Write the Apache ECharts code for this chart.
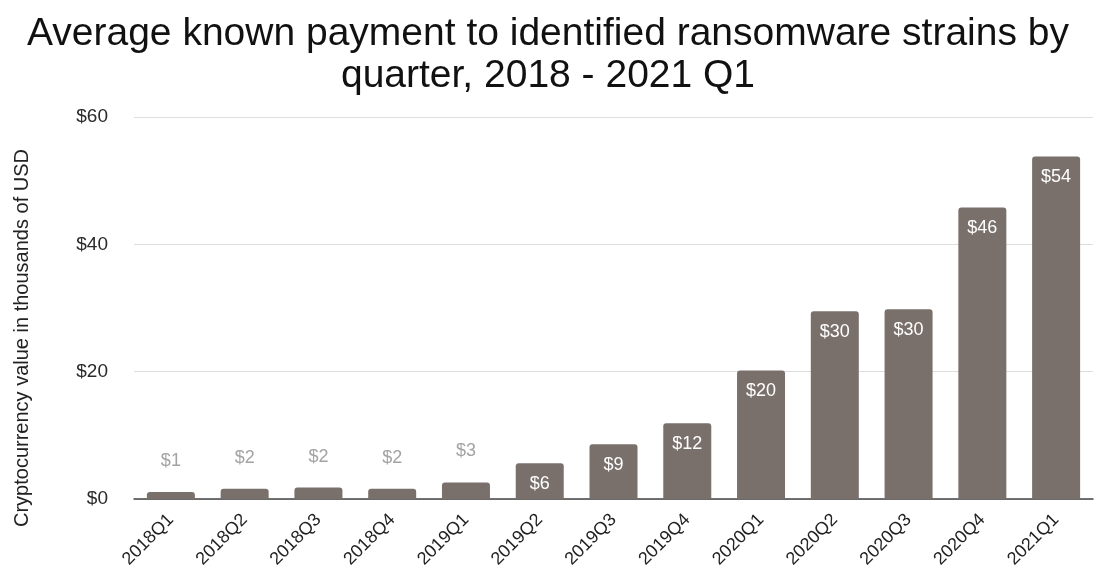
<!DOCTYPE html>
<html>
<head>
<meta charset="utf-8">
<script src="https://cdn.jsdelivr.net/npm/echarts@6/dist/echarts.min.js"></script>
<style>
  html, body { margin: 0; padding: 0; background: #fff; }
  #chart { width: 1096px; height: 575px; }
</style>
</head>
<body>
<div id="chart"></div>
<script>
const quarters = ['2018Q1', '2018Q2', '2018Q3', '2018Q4', '2019Q1', '2019Q2', '2019Q3',
    '2019Q4', '2020Q1', '2020Q2', '2020Q3', '2020Q4', '2021Q1']
// average payment, thousands of USD
const payments = [1.1, 1.6, 1.8, 1.6, 2.6, 5.6, 8.6, 11.9, 20.2, 29.5, 29.8, 45.8, 53.8]
const yTicks = [0, 20, 40, 60]

// small bars get their label above, the rest inside
const insideFrom = 5

const barData = payments.map((v, i) => {
    if (i < insideFrom) {
        return {value: v, label: {position: 'top', distance: 22, color: '#a3a3a3'}}
    }
    return {value: v, label: {position: 'insideTop', distance: 12, color: '#ffffff'}}
})

const chart = echarts.init(document.getElementById('chart'))
chart.setOption({
    animation: false,
    textStyle: {fontFamily: 'Liberation Sans, Arial, sans-serif'},
    title: {
        text: 'Average known payment to identified ransomware strains by\nquarter, 2018 - 2021 Q1',
        left: 'center',
        top: 8,
        textStyle: {fontSize: 39, fontWeight: 'normal', color: '#111', lineHeight: 42}
    },
    grid: {left: 134, right: 3, top: 117, bottom: 76},
    xAxis: {
        type: 'category',
        data: quarters,
        axisTick: {show: false},
        axisLine: {lineStyle: {color: '#444', width: 1.5}},
        axisLabel: {rotate: 45, fontSize: 18, color: '#222', margin: 18}
    },
    yAxis: {
        type: 'value',
        min: yTicks[0],
        max: yTicks[yTicks.length - 1],
        interval: 20,
        name: 'Cryptocurrency value in thousands of USD',
        nameLocation: 'middle',
        nameGap: 102,
        nameTextStyle: {fontSize: 20, color: '#222', padding: [0, 60, 0, 0]},
        axisLabel: {fontSize: 19, color: '#2a2a2a', margin: 26, formatter: v => '$' + v},
        splitLine: {lineStyle: {color: '#dddddd'}}
    },
    series: [{
        type: 'bar',
        data: barData,
        barWidth: 48,
        itemStyle: {color: '#7a706b', borderRadius: [3, 3, 0, 0]},
        label: {
            show: true,
            fontSize: 18,
            formatter: p => '$' + Math.round(p.value)
        }
    }]
})
</script>
</body>
</html>
